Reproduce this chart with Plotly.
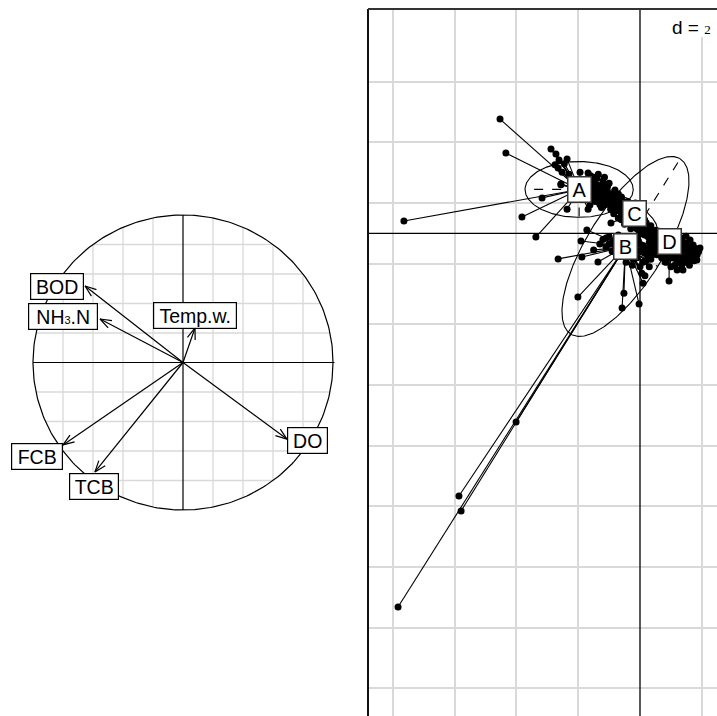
import numpy as np
import plotly.graph_objects as go

W, H = 717, 716

# ---------------- left panel: correlation circle ----------------
varLabels = ["BOD", "NH<span style='font-size:11px'>3</span>.N", "Temp.w.", "DO", "FCB", "TCB"]
varX = [-0.653, -0.553, 0.080, 0.693, -0.800, -0.587]
varY = [0.519, 0.295, 0.234, -0.519, -0.559, -0.742]

# label box positions / sizes (px)
labPosX = [-0.840, -0.800, 0.080, 0.830, -0.973, -0.593]
labPosY = [0.515, 0.312, 0.319, -0.529, -0.637, -0.841]
labBoxW = [54, 70, 84, 41, 52, 50]

# ---------------- right panel: classes, d = 2 ----------------
classNames = ["A", "B", "C", "D"]
classX = [-1.97, -0.47, -0.18, 0.95]
classY = [1.45, -0.43, 0.66, -0.28]

pointsA = [(-4.53, 3.77), (-4.34, 2.65), (-7.64, 0.41), (-3.82, 0.54), (-3.37, -0.12),
           (-3.17, 1.17), (-2.56, 1.60), (-2.36, 0.80), (-1.68, 0.80), (-2.88, 2.78),
           (-2.72, 2.62), (-2.62, 2.42), (-2.36, 2.45), (-2.75, 2.26), (-2.65, 2.16),
           (-2.52, 2.02), (-1.94, 2.02), (-1.68, 1.99), (-2.56, 1.63), (-1.70, 1.80),
           (-1.50, 1.70), (-1.60, 1.90), (-1.46, 1.70), (-1.36, 1.43), (-1.23, 1.27),
           (-1.29, 1.10), (-1.13, 1.60), (-1.04, 1.33), (-0.91, 1.17), (-1.39, 1.83),
           (-0.81, 1.43), (-1.17, 0.94), (-1.62, 0.94), (-1.45, 1.20), (-1.30, 1.55),
           (-1.10, 1.45), (-0.95, 1.30), (-1.20, 1.05), (-2.30, 1.95), (-2.45, 2.30),
           (-1.55, 1.55), (-1.50, 1.35), (-1.45, 1.05), (-1.40, 1.60), (-1.35, 1.25),
           (-1.30, 0.95), (-1.25, 1.45), (-1.20, 1.70), (-1.15, 1.15), (-1.10, 1.35),
           (-1.40, 1.15), (-1.55, 1.25), (-1.50, 1.85), (-1.05, 1.55), (-1.25, 0.85),
           (-0.85, 1.25), (-1.00, 1.05), (-1.35, 1.95), (-1.15, 1.85), (-1.00, 1.65)]

pointsB = [(-7.83, -12.32), (-5.79, -9.15), (-5.86, -8.66), (-4.01, -6.22), (-2.01, -2.10),
           (-0.58, -2.46), (-0.52, -1.97), (-0.03, -2.33), (-2.65, -0.84), (-1.88, -0.78),
           (-1.36, -0.94), (-1.91, -0.25), (-1.72, 0.11), (0.16, -1.40), (0.10, -1.64),
           (0.06, -1.31), (-1.00, -0.10), (-0.90, -0.30), (-0.80, -0.20), (-0.70, -0.50),
           (-0.60, -0.60), (-0.30, -0.70), (-0.20, -0.50), (-0.10, -0.80), (0.00, -0.60),
           (-0.35, -0.25), (-0.15, -0.30), (0.10, -0.40), (-1.20, -0.20), (-1.10, -0.45),
           (-0.55, -0.75), (0.20, -0.90), (0.30, -1.10), (-0.25, -1.05), (-0.45, -0.95),
           (-0.70, -0.05), (-1.30, -0.35), (-1.50, -0.55), (-0.05, -0.25), (0.00, -0.35),
           (0.05, -0.55), (0.15, -0.65), (0.20, -0.50), (0.25, -0.75), (0.30, -0.55),
           (0.35, -0.85), (0.40, -0.70), (-0.25, -0.20), (-0.10, -0.15), (-0.40, -0.10),
           (-0.60, -0.20), (-0.80, -0.40), (-0.90, -0.60), (-1.00, -0.35), (-1.10, -0.15),
           (0.10, -0.95), (0.00, -1.10), (-0.20, -0.85), (-0.40, -0.65)]

pointsC = [(-1.00, 1.25), (-0.90, 1.00), (-0.80, 1.15), (-0.75, 0.85), (-0.65, 1.00),
           (-0.60, 0.70), (-0.55, 0.90), (-0.50, 0.55), (-0.45, 0.80), (-0.40, 0.40),
           (-0.35, 0.65), (-0.30, 0.30), (-0.25, 0.50), (-0.20, 0.20), (-0.10, 0.35),
           (0.00, 0.10), (0.05, 0.30), (0.10, 0.00), (0.20, 0.15), (0.25, -0.10),
           (0.30, 0.05), (0.40, -0.15), (0.45, 0.00), (0.55, -0.20), (0.60, -0.05),
           (-0.70, 0.50), (-0.85, 0.65), (-0.95, 0.80), (-1.10, 0.95), (-0.60, 1.20),
           (-0.30, 0.95), (0.15, 0.45), (0.35, 0.25), (-0.05, -0.05), (-0.50, 0.30),
           (-0.94, 0.34), (-1.20, 1.20), (-0.70, 1.30), (-0.40, 1.05), (0.00, 0.55),
           (0.20, 0.35), (-0.15, 1.00), (-1.05, 1.15), (-0.95, 0.95), (-0.90, 1.25),
           (-0.85, 0.90), (-0.80, 0.75), (-0.75, 1.10), (-0.70, 0.95), (-0.65, 0.80),
           (-0.60, 0.60), (-0.55, 1.05), (-0.50, 0.75), (-0.45, 0.60), (-0.40, 0.90),
           (-0.35, 0.45), (-0.30, 0.75), (-0.25, 0.35), (-0.20, 0.60), (-0.15, 0.25),
           (-0.10, 0.15), (0.00, 0.25), (0.05, 0.00), (0.10, 0.20), (0.15, -0.05),
           (0.20, 0.05), (0.25, 0.20), (0.30, -0.15), (0.35, 0.10), (0.40, 0.05),
           (0.50, -0.10), (0.65, -0.15), (-0.60, 0.45), (-0.30, 0.15), (0.15, 0.30)]

pointsD = [(0.94, -1.57), (1.84, -0.88), (1.20, -1.21), (1.39, -1.21), (1.62, -0.55),
           (1.72, -0.38), (1.78, -0.61), (1.55, -0.94), (1.46, -0.78), (1.29, -0.94),
           (1.13, -1.04), (0.81, -0.94), (1.62, -0.22), (1.49, -0.09), (1.94, -0.48),
           (1.04, -0.81), (0.40, -0.05), (0.50, 0.10), (0.60, 0.00), (0.70, -0.05),
           (0.80, -0.10), (0.55, -0.35), (0.65, -0.50), (0.75, -0.60), (0.85, -0.70),
           (0.30, -0.30), (0.45, -0.60), (1.10, -0.15), (1.20, -0.30), (1.30, -0.45),
           (1.40, -0.30), (1.00, 0.05), (0.35, -0.45), (1.70, -0.75), (1.55, -0.45),
           (0.45, -0.25), (0.50, -0.45), (0.60, -0.30), (0.65, -0.20), (0.70, -0.35),
           (0.75, -0.15), (0.80, -0.45), (0.90, -0.55), (0.95, -0.80), (1.00, -0.60),
           (1.05, -0.45), (1.10, -0.70), (1.15, -0.50), (1.20, -0.85), (1.25, -0.60),
           (1.30, -0.75), (1.35, -0.15), (1.40, -0.55), (1.45, -0.95), (1.50, -0.35),
           (1.55, -0.65), (1.60, -0.85), (1.65, -0.45), (1.70, -0.60), (1.75, -0.90),
           (1.80, -0.50), (1.85, -0.70), (1.90, -0.60), (0.55, -0.70), (0.70, -0.80),
           (0.85, -0.95), (1.00, -1.10), (1.35, -1.05), (1.60, -1.05), (0.90, -0.05),
           (1.20, -0.05)]

classPoints = [pointsA, pointsB, pointsC, pointsD]

# ellipse half-axes (vector 1, vector 2) per class
ellAxis1 = [(-1.75, 0.0), (1.77, 2.89), (0.71, -0.55), (0.68, -0.40)]
ellAxis2 = [(0.0, -0.92), (1.045, -0.664), (0.18, 0.24), (0.15, 0.25)]

# ---------------- geometry (px <-> data) ----------------
SXL, SYL = 150.0, 147.5           # left panel px per unit
CXL, CYL = 183.0, 362.5           # left centre in px
L_X0, L_X1, L_Y0, L_Y1 = 0, 368, 180, 546

SXR, SYR = 30.9, 30.33            # right panel px per unit
OXR, OYR = 640.0, 233.4           # right origin in px
R_X0, R_Y0 = 368, 9

FONT = "Liberation Sans, Arial, Helvetica, sans-serif"
GRID = "#d9d9d9"

fig = go.Figure()


def add_line(fig, xs, ys, axes, color="black", width=1, dash="solid"):
    fig.add_trace(go.Scatter(x=xs, y=ys, mode="lines", xaxis=axes[0], yaxis=axes[1],
                             line=dict(color=color, width=width, dash=dash),
                             hoverinfo="skip", showlegend=False))


# left: grid clipped to the circle
for v in [-0.8, -0.6, -0.4, -0.2, 0.2, 0.4, 0.6, 0.8]:
    h = np.sqrt(1 - v * v)
    add_line(fig, [v, v], [-h, h], ("x", "y"), GRID, 1.3)
    add_line(fig, [-h, h], [v, v], ("x", "y"), GRID, 1.3)

add_line(fig, [-1, 1.01], [0, 0], ("x", "y"), "black", 1.2)
add_line(fig, [0, 0], [-1, 1], ("x", "y"), "black", 1.2)
t = np.linspace(0, 2 * np.pi, 300)
add_line(fig, np.cos(t), np.sin(t), ("x", "y"), "black", 1.2)

# arrows
headLen, headAng = 12.0, np.radians(20)
for vx, vy in zip(varX, varY):
    add_line(fig, [0, vx], [0, vy], ("x", "y"), "black", 1.2)
    px, py = vx * SXL, vy * SYL
    n = np.hypot(px, py)
    ux, uy = px / n, py / n
    wx, wy = [], []
    for s in (1, -1):
        c, si = np.cos(s * headAng), np.sin(s * headAng)
        rx, ry = ux * c - uy * si, ux * si + uy * c
        wx.append((px - headLen * rx) / SXL)
        wy.append((py - headLen * ry) / SYL)
    add_line(fig, [wx[0], vx, wx[1]], [wy[0], vy, wy[1]], ("x", "y"), "black", 1.2)

# right: axes lines
add_line(fig, [0, 0], [-20, 10], ("x2", "y2"), "black", 1.3)
add_line(fig, [-10, 5], [0, 0], ("x2", "y2"), "black", 1.3)

# stars
for cx, cy, pts in zip(classX, classY, classPoints):
    xs, ys = [], []
    for x, y in pts:
        xs += [cx, x, None]
        ys += [cy, y, None]
    add_line(fig, xs, ys, ("x2", "y2"), "black", 1.1)

# ellipses with dashed half axes
for cx, cy, a1, a2 in zip(classX, classY, ellAxis1, ellAxis2):
    ex = cx + np.cos(t) * a1[0] + np.sin(t) * a2[0]
    ey = cy + np.cos(t) * a1[1] + np.sin(t) * a2[1]
    add_line(fig, ex, ey, ("x2", "y2"), "black", 1.1)
    add_line(fig, [cx, cx + a1[0]], [cy, cy + a1[1]], ("x2", "y2"), "black", 1.1, "dash")
    add_line(fig, [cx, cx + a2[0]], [cy, cy + a2[1]], ("x2", "y2"), "black", 1.1, "dash")

# points
for pts in classPoints:
    fig.add_trace(go.Scatter(x=[p[0] for p in pts], y=[p[1] for p in pts], mode="markers",
                             xaxis="x2", yaxis="y2",
                             marker=dict(size=7, color="black"),
                             hoverinfo="skip", showlegend=False))

annotations = []
for lab, lx, ly, bw in zip(varLabels, labPosX, labPosY, labBoxW):
    annotations.append(dict(x=lx, y=ly, xref="x", yref="y", text=lab, showarrow=False,
                            font=dict(family=FONT, size=19.5, color="black"),
                            bgcolor="white", bordercolor="black", borderwidth=1.2,
                            borderpad=1, width=bw - 4, height=23))

for name, cx, cy in zip(classNames, classX, classY):
    annotations.append(dict(x=cx, y=cy, xref="x2", yref="y2", text=name, showarrow=False,
                            font=dict(family=FONT, size=20, color="black"),
                            bgcolor="white", bordercolor="#333333", borderwidth=1.5,
                            borderpad=1, width=20, height=22))

annotations.append(dict(x=713 / W, y=1 - 27 / H, xref="paper", yref="paper",
                        xanchor="right", yanchor="middle", showarrow=False,
                        text='d = <span style="font-family:Liberation Serif;font-size:13px">2</span>',
                        font=dict(family=FONT, size=19, color="black")))

shapes = [
    dict(type="rect", xref="paper", yref="paper", x0=664 / W, x1=1.0,
         y0=1 - 37 / H, y1=1 - 10 / H, fillcolor="white", line=dict(width=0), layer="above"),
    dict(type="line", xref="paper", yref="paper", x0=R_X0 / W, x1=R_X0 / W,
         y0=0, y1=1 - R_Y0 / H, line=dict(color="#111111", width=2), layer="above"),
    dict(type="line", xref="paper", yref="paper", x0=R_X0 / W, x1=1.0,
         y0=1 - R_Y0 / H, y1=1 - R_Y0 / H, line=dict(color="#333333", width=2), layer="above"),
]

fig.update_layout(
    width=W, height=H, autosize=False,
    margin=dict(l=0, r=0, t=0, b=0, pad=0),
    paper_bgcolor="white", plot_bgcolor="white",
    showlegend=False,
    xaxis=dict(domain=[L_X0 / W, L_X1 / W],
               range=[(L_X0 - CXL) / SXL, (L_X1 - CXL) / SXL], visible=False),
    yaxis=dict(domain=[1 - L_Y1 / H, 1 - L_Y0 / H],
               range=[(CYL - L_Y1) / SYL, (CYL - L_Y0) / SYL], visible=False),
    xaxis2=dict(domain=[R_X0 / W, 1.0], anchor="y2",
                range=[(R_X0 - OXR) / SXR, (W - OXR) / SXR],
                tickvals=[-8, -6, -4, -2, 2], showticklabels=False, ticks="",
                showgrid=True, gridcolor=GRID, gridwidth=1.5, zeroline=False, showline=False),
    yaxis2=dict(domain=[0, 1 - R_Y0 / H], anchor="x2",
                range=[(OYR - H) / SYR, (OYR - R_Y0) / SYR],
                tickvals=[5, 3, 1, -1, -3, -5, -7, -9, -11, -13, -15], showticklabels=False,
                ticks="", showgrid=True, gridcolor=GRID, gridwidth=1.5, zeroline=False,
                showline=False),
    annotations=annotations,
    shapes=shapes,
)

fig.write_html("out.html", config={"displayModeBar": False},
               post_script="document.body.style.margin='0';")
